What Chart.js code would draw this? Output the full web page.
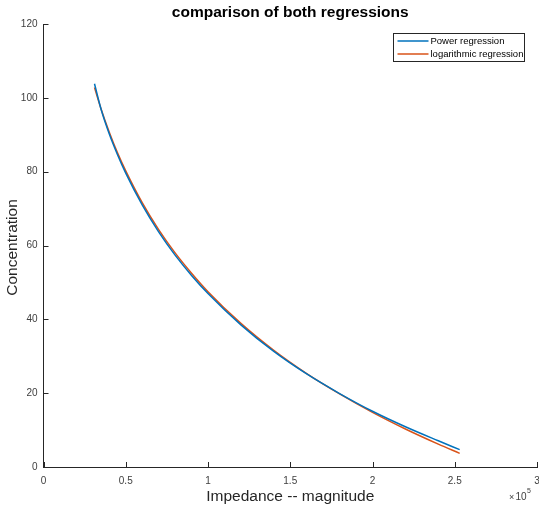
<!DOCTYPE html>
<html>
<head>
<meta charset="utf-8">
<script src="https://cdn.jsdelivr.net/npm/chart.js@4.4.1/dist/chart.umd.min.js"></script>
<style>
  html, body { margin: 0; padding: 0; background: #fff; }
  #wrap { width: 539px; height: 507px; position: relative; }
</style>
</head>
<body>
<div id="wrap"><canvas id="chart"></canvas></div>
<script>
// impedance magnitude (x) and the two fitted concentration curves
const impedance = [31000, 35000, 40000, 45000, 50000, 60000, 70000, 80000, 90000, 100000,
                   120000, 140000, 160000, 180000, 200000, 220000, 240000, 253000];
const powerFit = [103.8, 96.9, 90.2, 84.6, 79.6, 71.0, 63.7, 57.4, 51.9, 47.0,
                  38.5, 31.3, 25.2, 19.9, 15.1, 10.9, 7.1, 4.7];
const logFit = [102.8, 97.0, 90.7, 85.1, 80.2, 71.6, 64.3, 58.0, 52.5, 47.5,
                38.9, 31.6, 25.3, 19.8, 14.8, 10.3, 6.2, 3.7];
const seriesNames = ['Power regression', 'logarithmic regression'];
const seriesColors = ['#0072BD', '#D95319'];

const xTicks = [0, 50000, 100000, 150000, 200000, 250000, 300000];
const yTicks = [0, 20, 40, 60, 80, 100, 120];

const titleText = 'comparison of both regressions';
const xTitle = 'Impedance -- magnitude';
const yTitle = 'Concentration';

let axisColor = '#262626';
let font = '"Liberation Sans", Arial, sans-serif';

function toPoints(xs, ys){
    return xs.map((x, i) => ({x: x, y: ys[i]}));
}

// matlab look: inward ticks, title, labels, legend box
const matlabDecor = {
    id: 'matlabDecor',
    afterDraw(chart){
        let ctx = chart.ctx;
        let area = chart.chartArea;
        let xs = chart.scales.x;
        let ys = chart.scales.y;
        ctx.save();
        ctx.strokeStyle = axisColor;
        ctx.lineWidth = 1;
        ctx.beginPath();
        xTicks.forEach(v => {
            let px = Math.round(xs.getPixelForValue(v)) + 0.5;
            ctx.moveTo(px, area.bottom);
            ctx.lineTo(px, area.bottom - 5);
        });
        yTicks.forEach(v => {
            let py = Math.round(ys.getPixelForValue(v)) + 0.5;
            ctx.moveTo(area.left, py);
            ctx.lineTo(area.left + 5, py);
        });
        ctx.stroke();

        // title
        ctx.fillStyle = '#000';
        ctx.font = 'bold 15.5px ' + font;
        ctx.textAlign = 'center';
        ctx.textBaseline = 'alphabetic';
        ctx.fillText(titleText, (area.left + area.right) / 2, 17);

        // axis titles
        ctx.fillStyle = axisColor;
        ctx.font = '15.5px ' + font;
        ctx.fillText(xTitle, (area.left + area.right) / 2, 501);
        ctx.save();
        ctx.translate(17, (area.top + area.bottom) / 2 + 2);
        ctx.rotate(-Math.PI / 2);
        ctx.fillText(yTitle, 0, 0);
        ctx.restore();

        // x10^5 exponent
        ctx.fillStyle = '#404040';
        ctx.textAlign = 'left';
        ctx.font = '9px ' + font;
        ctx.fillText('\u00d7', 509, 500);
        ctx.font = '10px ' + font;
        ctx.fillText('10', 515.5, 500);
        ctx.font = '7px ' + font;
        ctx.fillText('5', 527, 493);

        // legend
        let lx = 393.5, ly = 33.5, lw = 131, lh = 28;
        ctx.fillStyle = '#fff';
        ctx.fillRect(lx, ly, lw, lh);
        ctx.strokeStyle = axisColor;
        ctx.strokeRect(lx, ly, lw, lh);
        ctx.font = '9.5px ' + font;
        ctx.textBaseline = 'middle';
        seriesNames.forEach((name, i) => {
            let yy = ly + 7.5 + i * 13;
            ctx.strokeStyle = seriesColors[i];
            ctx.lineWidth = 1.5;
            ctx.beginPath();
            ctx.moveTo(lx + 4, yy);
            ctx.lineTo(lx + 35, yy);
            ctx.stroke();
            ctx.fillStyle = '#000';
            ctx.fillText(name, lx + 37, yy);
        });
        ctx.restore();
    }
};

let chartCanvas = document.getElementById('chart').getContext('2d');

let config = {
    type : 'line',
    data : {
        datasets : [{
            label : seriesNames[0],
            data : toPoints(impedance, powerFit),
            borderColor : seriesColors[0],
            borderWidth : 1.5,
            pointRadius : 0,
            cubicInterpolationMode : 'monotone',
            fill : false
        }, {
            label : seriesNames[1],
            data : toPoints(impedance, logFit),
            borderColor : seriesColors[1],
            borderWidth : 1.5,
            pointRadius : 0,
            cubicInterpolationMode : 'monotone',
            fill : false
        }]
    },
    options : {
        responsive : true,
        maintainAspectRatio : false,
        animation : false,
        layout : { padding : { top : 24, right : 2, left : 0, bottom : 0 } },
        plugins : {
            legend : { display : false },
            tooltip : { enabled : false },
            title : { display : false }
        },
        scales : {
            x : {
                type : 'linear',
                min : 0,
                max : 300000,
                afterBuildTicks : (scale) => { scale.ticks = xTicks.map(v => ({value : v})); },
                afterFit : (scale) => {
                    scale.height = 40;
                    scale.paddingLeft = 0;
                    scale.paddingRight = 0;
                },
                grid : { display : false, drawTicks : false },
                border : { display : true, color : axisColor, width : 1 },
                ticks : {
                    padding : 8,
                    color : '#404040',
                    font : { family : font, size : 10 },
                    maxRotation : 0,
                    callback : (v) => String(v / 100000)
                }
            },
            y : {
                type : 'linear',
                min : 0,
                max : 120,
                afterBuildTicks : (scale) => { scale.ticks = yTicks.map(v => ({value : v})); },
                afterFit : (scale) => {
                    scale.width = 43.5;
                    scale.paddingTop = 0;
                    scale.paddingBottom = 0;
                },
                grid : { display : false, drawTicks : false },
                border : { display : true, color : axisColor, width : 1 },
                ticks : {
                    padding : 6,
                    color : '#404040',
                    font : { family : font, size : 10 }
                }
            }
        }
    },
    plugins : [matlabDecor]
};

let chart = new Chart(chartCanvas, config);
</script>
</body>
</html>
